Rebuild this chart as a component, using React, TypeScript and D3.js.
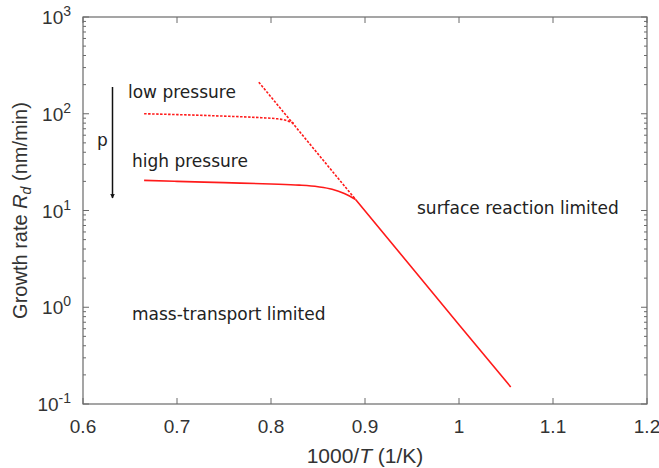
import React from "react";
import * as d3 from "d3";

const highCurveX = [0.665, 0.70, 0.75, 0.80, 0.83, 0.85, 0.865, 0.878, 0.89];
const highCurveY = [20.5, 20.0, 19.4, 18.8, 18.3, 17.6, 16.6, 15.0, 13.0];
const reactionX = [0.89, 0.95, 1.0, 1.055];
const reactionY = [13.0, 2.56, 0.66, 0.15];

const lowX = [0.665, 0.70, 0.75, 0.79, 0.805, 0.815, 0.824];
const lowY = [100, 98, 94.5, 91, 89, 86, 80];

const steepX = [0.787, 0.89];
const steepY = [212, 13];

const xTicks = [0.6, 0.7, 0.8, 0.9, 1.0, 1.1, 1.2];
const xTickLabels = ["0.6", "0.7", "0.8", "0.9", "1", "1.1", "1.2"];
const yExps = [-1, 0, 1, 2, 3];

const W = 659, H = 468;
const L = 83, R = 647, T = 17, B = 404;

export default function App() {
  const x = d3.scaleLinear().domain([0.6, 1.2]).range([L, R]);
  const y = d3.scaleLog().domain([0.1, 1000]).range([B, T]);
  const line = d3.line<[number, number]>().x(d => x(d[0])).y(d => y(d[1])).curve(d3.curveMonotoneX);
  const lineStraight = d3.line<[number, number]>().x(d => x(d[0])).y(d => y(d[1]));
  const zip = (a: number[], b: number[]) => a.map((v, i) => [v, b[i]] as [number, number]);
  const highCurve = zip(highCurveX, highCurveY);
  const reaction = zip(reactionX, reactionY);
  const low = zip(lowX, lowY);
  const steep = zip(steepX, steepY);

  const minor: number[] = [];
  for (let e = -1; e < 3; e++) for (let m = 2; m <= 9; m++) minor.push(m * Math.pow(10, e));

  const axisColor = "#6a6a6a";
  const textColor = "#333";
  const font = "Liberation Sans, Arial, sans-serif";
  const annFont = "DejaVu Sans, Verdana, sans-serif";
  const red = "#ff1a1a";

  return (
    <svg width={W} height={H} style={{ position: "absolute", left: 0, top: 0, background: "#fff" }}>
      <rect x={0} y={0} width={W} height={H} fill="#fff" />
      {/* data */}
      <path d={line(highCurve) || ""} fill="none" stroke={red} strokeWidth={1.6} />
      <path d={lineStraight(reaction) || ""} fill="none" stroke={red} strokeWidth={1.6} />
      <path d={line(low) || ""} fill="none" stroke={red} strokeWidth={1.6} strokeDasharray="2.5,1.5" />
      <path d={lineStraight(steep) || ""} fill="none" stroke={red} strokeWidth={1.6} strokeDasharray="2.5,1.5" />

      {/* box */}
      <rect x={L} y={T} width={R - L} height={B - T} fill="none" stroke={axisColor} strokeWidth={1.2} />
      {/* x ticks */}
      {xTicks.map((t, i) => (
        <g key={"x" + i}>
          <line x1={x(t)} x2={x(t)} y1={B} y2={B - 6} stroke={axisColor} />
          <line x1={x(t)} x2={x(t)} y1={T} y2={T + 6} stroke={axisColor} />
          <text x={x(t)} y={B + 29} textAnchor="middle" fontFamily={font} fontSize={19} fill={textColor}>{xTickLabels[i]}</text>
        </g>
      ))}
      {/* y ticks */}
      {yExps.map(e => {
        const v = Math.pow(10, e);
        return (
          <g key={"y" + e}>
            <line x1={L} x2={L + 6} y1={y(v)} y2={y(v)} stroke={axisColor} />
            <line x1={R} x2={R - 6} y1={y(v)} y2={y(v)} stroke={axisColor} />
            <text x={L - 12} y={y(v) + 7} textAnchor="end" fontFamily={font} fontSize={19} fill={textColor}>
              10<tspan dy={-8} fontSize={14}>{e}</tspan>
            </text>
          </g>
        );
      })}
      {minor.map((v, i) => (
        <g key={"m" + i}>
          <line x1={L} x2={L + 3} y1={y(v)} y2={y(v)} stroke={axisColor} />
          <line x1={R} x2={R - 3} y1={y(v)} y2={y(v)} stroke={axisColor} />
        </g>
      ))}

      {/* axis labels */}
      <text x={(L + R) / 2} y={463} textAnchor="middle" fontFamily={font} fontSize={21} fill={textColor}>
        1000/<tspan fontStyle="italic">T</tspan> (1/K)
      </text>
      <text transform={`translate(27,${(T + B) / 2}) rotate(-90)`} textAnchor="middle" fontFamily={font} fontSize={20} fill={textColor}>
        Growth rate <tspan fontStyle="italic">R</tspan><tspan fontStyle="italic" fontSize={14} dy={4}>d</tspan><tspan dy={-4}> (nm/min)</tspan>
      </text>

      {/* annotations */}
      <defs>
        <marker id="ah" viewBox="0 0 10 10" refX={9} refY={5} markerWidth={5} markerHeight={9} orient="auto" markerUnits="userSpaceOnUse">
          <path d="M0,0 L10,5 L0,10 L2,5 Z" fill="#111" />
        </marker>
      </defs>
      <line x1={112.5} x2={112.5} y1={87} y2={198} stroke="#111" strokeWidth={1.5} markerEnd="url(#ah)" />
      <text x={97} y={146} fontFamily={annFont} fontSize={17} fill="#222">p</text>
      <text x={128} y={98} fontFamily={annFont} fontSize={17} fill="#222">low pressure</text>
      <text x={132} y={167} fontFamily={annFont} fontSize={17} fill="#222">high pressure</text>
      <text x={417} y={214} fontFamily={annFont} fontSize={17} fill="#222">surface reaction limited</text>
      <text x={132} y={320} fontFamily={annFont} fontSize={17} fill="#222">mass-transport limited</text>
    </svg>
  );
}
